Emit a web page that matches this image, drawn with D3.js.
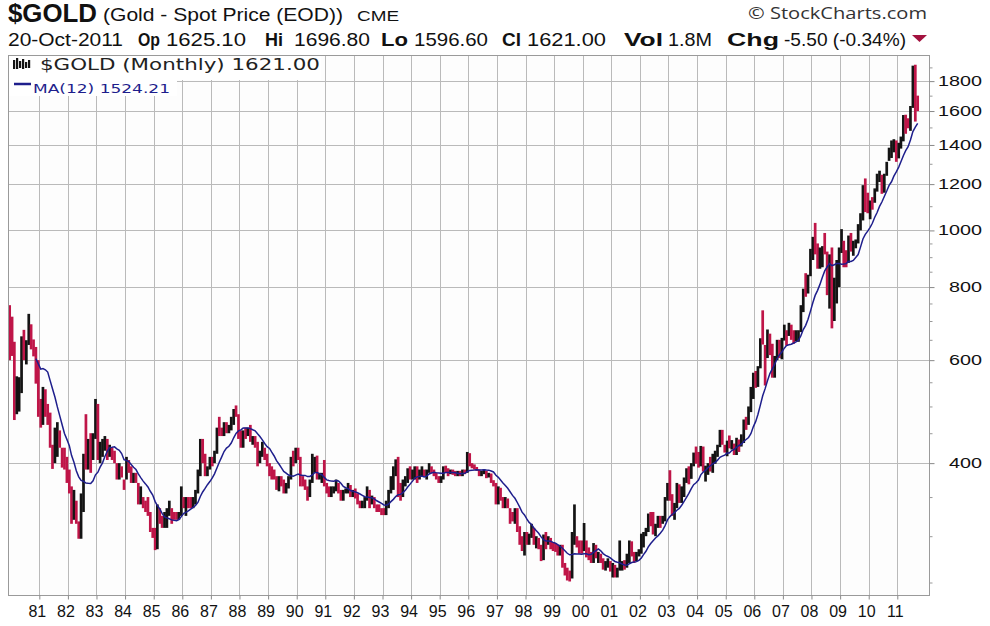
<!DOCTYPE html>
<html><head><meta charset="utf-8">
<script src="https://cdn.jsdelivr.net/npm/d3@7"></script>
<style>
body{margin:0;background:#fff;}
svg{display:block;font-family:"Liberation Sans",Arial,sans-serif;}
</style>
</head><body>
<svg id="chart" width="990" height="626"></svg>
<script>
// ---------- DATA (monthly $GOLD, Jan 1980 .. Oct 2011) ----------
const firstMonth = [1980, 0];
const priorClose = 680; // close of the month before the first bar
const high = [
 745,712,645,563,561,659,676,649,720,691,651,632,
 600,515,540,535,505,488,430,460,470,455,425,425,
 410,390,365,360,345,318,355,415,485,440,450,450,
 515,505,435,440,445,440,430,425,420,400,400,395,
 375,410,405,395,385,385,370,365,350,345,350,330,
 310,310,340,335,325,330,335,345,335,330,330,330,
 365,350,350,350,350,350,360,390,440,440,415,395,
 410,410,420,460,480,460,470,470,465,480,495,502,
 485,455,455,460,460,465,445,445,435,420,435,425,
 415,400,395,390,380,380,380,375,370,380,410,420,
 425,425,410,380,375,365,375,415,410,412,385,385,
 405,370,365,365,365,375,370,360,360,362,370,367,
 360,362,355,345,345,350,365,360,352,350,340,340,
 335,335,345,360,380,395,406,410,370,375,380,392,
 395,390,395,395,390,395,390,390,400,395,390,385,
 380,380,395,396,392,390,390,388,388,388,390,390,
 418,416,400,398,394,390,388,390,388,385,384,374,
 370,365,363,350,350,348,335,330,335,335,312,300,
 305,305,303,315,310,300,298,290,302,305,300,298,
 293,292,290,290,290,270,265,262,305,340,300,295,
 295,316,295,287,282,292,290,282,280,275,272,275,
 272,270,268,265,295,272,273,280,295,294,282,282,
 285,303,305,310,328,330,330,315,325,325,325,350,
 370,389,354,342,370,368,365,378,392,395,400,417,
 427,418,428,427,396,400,410,415,420,430,456,456,
 430,437,446,438,432,442,439,448,475,480,500,540,
 571,575,586,654,730,637,677,666,640,610,650,650,
 655,690,675,695,690,675,675,675,745,795,845,840,
 930,975,1030,950,935,940,990,920,910,935,830,890,
 935,1005,960,925,980,990,960,965,1025,1070,1195,1227,
 1160,1125,1140,1180,1250,1265,1245,1250,1310,1385,1425,1432,
 1425,1412,1447,1575,1577,1555,1632,1913,1920,1700
];
const low = [
 600,610,474,485,490,527,600,590,637,626,609,547,
 480,460,465,480,465,425,391,400,410,425,393,390,
 370,355,315,320,315,297,297,330,390,390,385,405,
 440,405,400,410,420,405,410,405,400,375,375,378,
 360,375,385,370,370,370,340,340,335,330,325,305,
 298,284,285,315,310,310,310,325,315,320,320,320,
 325,335,325,335,335,335,340,355,380,400,380,380,
 390,395,400,415,445,445,445,450,450,455,465,480,
 440,425,425,440,445,435,430,425,395,400,410,405,
 395,380,375,375,360,358,365,355,355,362,375,395,
 400,405,365,365,360,345,350,370,385,375,375,370,
 365,355,350,350,355,358,355,345,345,355,355,350,
 350,348,340,335,335,335,345,335,340,335,330,330,
 326,326,326,335,355,360,380,350,345,350,365,370,
 375,375,375,370,375,380,380,375,385,385,380,375,
 370,370,375,385,380,383,382,380,380,380,380,383,
 385,395,392,390,388,380,380,383,377,378,370,365,
 340,340,345,335,335,335,315,318,315,305,290,283,
 278,290,290,298,290,286,285,272,273,285,290,285,
 283,282,278,278,265,257,252,251,254,290,287,280,
 280,283,276,273,270,270,275,270,270,263,262,265,
 261,255,255,255,262,262,263,265,270,277,270,272,
 277,280,287,300,305,312,302,300,310,310,315,318,
 345,345,325,320,335,342,342,350,370,368,376,395,
 399,393,395,387,372,382,387,385,399,410,426,430,
 417,411,424,422,413,413,418,427,433,456,465,489,
 515,538,540,581,638,543,605,612,560,560,600,605,
 602,648,635,660,650,640,646,645,670,725,770,780,
 835,890,910,860,860,865,910,775,735,680,700,750,
 800,915,865,865,880,920,905,932,950,1000,1040,1075,
 1070,1045,1085,1115,1165,1210,1155,1160,1240,1315,1330,1360,
 1310,1328,1380,1420,1463,1495,1480,1620,1535,1600
];
const close = [
 653,637,494,518,538,653,615,631,666,629,619,590,
 507,489,513,482,477,425,406,425,428,427,414,400,
 384,362,320,350,316,315,342,411,397,422,411,448,
 490,410,414,430,437,415,422,414,405,382,383,382,
 370,395,394,375,384,374,342,348,343,333,330,309,
 306,287,331,321,315,318,328,334,327,326,324,327,
 350,339,345,344,343,346,357,384,424,402,384,391,
 405,404,418,452,451,448,462,453,460,468,492,484,
 458,426,457,451,452,436,437,429,397,412,421,410,
 395,388,383,377,362,373,369,360,366,376,408,401,
 415,407,368,367,363,352,372,387,408,380,381,386,
 367,363,356,357,360,367,362,347,354,357,366,353,
 354,353,341,337,338,343,357,341,349,339,334,333,
 330,329,337,355,378,380,402,372,355,370,371,390,
 380,382,392,375,387,388,384,386,394,389,384,383,
 375,376,392,389,385,387,384,383,384,383,387,386,
 405,400,396,392,391,382,385,386,379,380,371,369,
 345,363,349,340,345,335,326,325,332,311,296,290,
 303,297,301,309,293,296,288,274,294,292,294,288,
 287,286,280,286,268,262,255,254,299,300,292,288,
 283,293,279,274,273,288,277,278,273,264,269,273,
 265,267,258,264,267,271,266,273,293,279,275,279,
 282,297,302,308,326,318,304,312,323,317,318,347,
 367,347,334,337,364,346,354,375,388,384,398,416,
 400,396,426,388,394,395,391,408,416,429,453,437,
 422,435,428,436,416,436,429,433,473,470,495,517,
 569,556,583,654,643,614,632,623,599,604,646,632,
 651,666,663,678,659,650,665,673,743,795,783,834,
 923,971,917,864,885,929,914,832,880,717,817,883,
 928,942,918,884,979,927,954,955,1008,1040,1182,1097,
 1083,1118,1116,1180,1215,1244,1181,1248,1307,1357,1386.02,1421,
 1333,1410,1439,1563,1536,1500,1631.5,1826,1624,1621
];
const maPeriod = 12;
const yTickValues = [400,600,800,1000,1200,1400,1600,1800];
const yMinorValues = [250,300,350,450,500,550,650,700,750,850,900,950,1100,1300,1500,1700,1900];
const yearTicks = d3.range(1981, 2012);
const yearLabels = yearTicks.map(y => String(y % 100).padStart(2, "0"));

const headerTitle = "$GOLD", headerName = "(Gold - Spot Price (EOD))", headerExch = "CME";
const quoteDate = "20-Oct-2011";
const quoteFields = [["Op","1625.10"],["Hi","1696.80"],["Lo","1596.60"],["Cl","1621.00"],["Vol","1.8M"],["Chg","-5.50 (-0.34%)"]];
const legendPrice = "$GOLD (Monthly) 1621.00";
const legendMA = "MA(12) 1524.21";

// ---------- LAYOUT ----------
const svg = d3.select("#chart");
const P = {left: 8, right: 929, top: 55, bottom: 595};
const UP = "#141414", DOWN = "#bf1548", MA = "#1e1e8c", GRID = "#bababa";

const dates = close.map((_, i) => new Date(firstMonth[0], firstMonth[1] + i, 1));
const x = d3.scaleTime().domain([new Date(1979, 10, 28), new Date(2012, 1, 10)]).range([P.left, P.right]);
const y = d3.scaleLog().domain([238, 1995]).range([P.bottom, P.top]);

function txt(g, xx, yy, s, o = {}) {
  const t = g.append("text").attr("x", xx).attr("y", yy).text(s)
    .attr("font-size", o.size || 16).attr("fill", o.fill || "#111")
    .attr("font-weight", o.weight || "normal")
    .attr("text-anchor", o.anchor || "start");
  if (o.family) t.attr("font-family", o.family);
  if (o.len) t.attr("textLength", o.len).attr("lengthAdjust", "spacingAndGlyphs");
  return t;
}

// plot background
svg.append("rect").attr("x", P.left).attr("y", P.top).attr("width", P.right - P.left).attr("height", P.bottom - P.top).attr("fill", "#fdfdfd");

// grid
const grid = svg.append("g").attr("stroke", GRID).attr("stroke-width", 1);
grid.selectAll("line.v").data(yearTicks).join("line")
  .attr("x1", d => Math.round(x(new Date(d, 0, 1))) + 0.5).attr("x2", d => Math.round(x(new Date(d, 0, 1))) + 0.5)
  .attr("y1", P.top).attr("y2", P.bottom);
grid.selectAll("line.h").data(yTickValues).join("line")
  .attr("x1", P.left).attr("x2", P.right)
  .attr("y1", d => Math.round(y(d)) + 0.5).attr("y2", d => Math.round(y(d)) + 0.5);

// bars
const bw = 2.7;
svg.append("g").selectAll("rect").data(close).join("rect")
  .attr("x", (d, i) => x(dates[i]) - 1 - bw / 2)
  .attr("width", bw)
  .attr("y", (d, i) => y(high[i]))
  .attr("height", (d, i) => Math.max(1, y(low[i]) - y(high[i])))
  .attr("fill", (d, i) => d < (i === 0 ? priorClose : close[i - 1]) ? DOWN : UP);

// moving average
const maData = close.map((d, i) => i < maPeriod - 1 ? null : d3.mean(close.slice(i - maPeriod + 1, i + 1)));
svg.append("path")
  .datum(maData.map((v, i) => [i, v]).filter(d => d[1] !== null))
  .attr("fill", "none").attr("stroke", MA).attr("stroke-width", 1.5)
  .attr("d", d3.line().x(d => x(dates[d[0]]) - 1).y(d => y(d[1])));

// frame
svg.append("rect").attr("x", P.left + 0.5).attr("y", P.top + 0.5).attr("width", P.right - P.left).attr("height", P.bottom - P.top)
  .attr("fill", "none").attr("stroke", "#9a9a9a");

// right axis
const yAxis = d3.axisRight(y).tickValues(yTickValues).tickSize(5).tickFormat("");
const ya = svg.append("g").attr("transform", `translate(${P.right + 0.5},0)`).call(yAxis);
ya.select(".domain").remove();
ya.selectAll("line").attr("stroke", "#888");
svg.append("g").attr("transform", `translate(${P.right + 0.5},0)`)
  .call(d3.axisRight(y).tickValues(yMinorValues).tickSize(3).tickFormat(""))
  .call(g => { g.select(".domain").remove(); g.selectAll("line").attr("stroke", "#999"); });
svg.append("g").selectAll("text").data(yTickValues).join("text")
  .attr("x", 982).attr("y", d => y(d) + 5).attr("text-anchor", "end")
  .attr("font-size", 14).attr("fill", "#111")
  .attr("textLength", d => String(d).length * 11).attr("lengthAdjust", "spacingAndGlyphs")
  .text(d => d);

// bottom axis
const xa = svg.append("g").attr("transform", `translate(0,${P.bottom + 0.5})`)
  .call(d3.axisBottom(x).tickValues(yearTicks.map(d => new Date(d, 0, 1))).tickSize(4).tickFormat(""));
xa.select(".domain").remove();
xa.selectAll("line").attr("stroke", "#888");
svg.append("g").selectAll("text").data(yearTicks).join("text")
  .attr("x", d => x(new Date(d, 0, 1)) - 2).attr("y", 617)
  .attr("text-anchor", "middle").attr("font-size", 16).attr("fill", "#111")
  .text((d, i) => yearLabels[i]);

// legend
const lg = svg.append("g");
lg.append("rect").attr("x", P.left + 1).attr("y", P.top + 1).attr("width", 312).attr("height", 24).attr("fill", "#fff");
lg.append("rect").attr("x", P.left + 1).attr("y", P.top + 25).attr("width", 168).attr("height", 16).attr("fill", "#fff");
const icon = lg.append("g").attr("fill", UP);
[[13,60,9],[16,58,11],[19,61,7],[22,59,10],[25,62,6],[28,60,8]].forEach(b =>
  icon.append("rect").attr("x", b[0]).attr("y", b[1]).attr("width", 2.2).attr("height", b[2]));
txt(lg, 40, 70, legendPrice, {size: 15, fill: "#222", family: "DejaVu Sans", len: 280});
lg.append("line").attr("x1", 14).attr("x2", 31).attr("y1", 84).attr("y2", 84).attr("stroke", MA).attr("stroke-width", 2.5);
txt(lg, 33, 93, legendMA, {size: 13, fill: MA, family: "DejaVu Sans", len: 137});

// header
const hd = svg.append("g");
txt(hd, 8, 22, headerTitle, {size: 25, weight: "bold", len: 89});
txt(hd, 103, 21, headerName, {size: 18, len: 240});
txt(hd, 357, 21, headerExch, {size: 14, len: 42});
txt(hd, 927, 19, "\u00A9 StockCharts.com", {size: 16, fill: "#333", family: "Open Sans", anchor: "end", len: 179});
txt(hd, 8, 46, quoteDate, {size: 18, len: 115});
const fieldPos = [[138,22,166,80],[265,18,294,76],[381,27,414,74],[502,19,527,79],[624,39,668,44],[727,52,784,122]];
quoteFields.forEach((f, i) => {
  const p = fieldPos[i];
  txt(hd, p[0], 46, f[0], {size: 18, weight: "bold", len: p[1]});
  txt(hd, p[2], 46, f[1], {size: 18, len: p[3]});
});
hd.append("path").attr("d", d3.line()([[912,35],[927,35],[919.5,42]]) + "Z").attr("fill", "#a3123f");
</script>
</body></html>
